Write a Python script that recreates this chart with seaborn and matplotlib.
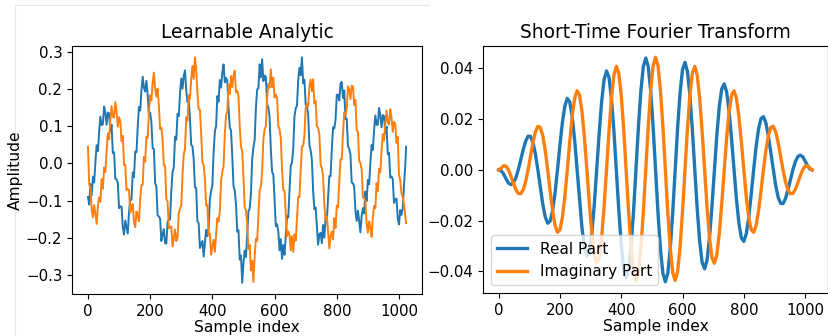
import matplotlib
matplotlib.use("Agg")
import matplotlib.pyplot as plt
from matplotlib.lines import Line2D
import seaborn as sns

# ---------------------------------------------------------------------------
# Data
# ---------------------------------------------------------------------------
# Learnable analytic filter (every 4th sample + last sample)
la_idx = list(range(0, 1024, 4)) + [1023]
la_real = [
    -0.090, -0.110, -0.055, -0.086, -0.035, -0.051, 0.004, 0.049, 0.033, 0.086, 0.126, 0.103, 0.105, 0.153, 0.136, 0.104,
    0.137, 0.134, 0.086, 0.104, 0.028, 0.030, -0.041, -0.042, -0.052, -0.120, -0.115, -0.116, -0.171, -0.191, -0.153, -0.170,
    -0.188, -0.131, -0.097, -0.097, -0.024, -0.037, 0.032, 0.030, 0.098, 0.152, 0.142, 0.196, 0.233, 0.203, 0.193, 0.222,
    0.185, 0.129, 0.137, 0.111, 0.041, 0.039, -0.052, -0.062, -0.139, -0.142, -0.148, -0.208, -0.190, -0.176, -0.214, -0.215,
    -0.157, -0.151, -0.150, -0.074, -0.023, -0.011, 0.072, 0.064, 0.133, 0.127, 0.187, 0.228, 0.201, 0.235, 0.250, 0.197,
    0.165, 0.175, 0.120, 0.050, 0.046, 0.011, -0.064, -0.066, -0.155, -0.160, -0.227, -0.216, -0.208, -0.250, -0.213, -0.178,
    -0.195, -0.174, -0.096, -0.074, -0.058, 0.029, 0.086, 0.100, 0.181, 0.166, 0.224, 0.204, 0.245, 0.266, 0.218, 0.230,
    0.222, 0.148, 0.096, 0.089, 0.020, -0.061, -0.072, -0.110, -0.183, -0.179, -0.258, -0.247, -0.320, -0.266, -0.234, -0.251,
    -0.188, -0.128, -0.121, -0.081, 0.011, 0.043, 0.063, 0.149, 0.199, 0.202, 0.266, 0.231, 0.280, 0.221, 0.236, 0.232,
    0.159, 0.150, 0.125, 0.038, -0.022, -0.030, -0.096, -0.168, -0.163, -0.182, -0.233, -0.203, -0.256, -0.219, -0.245, -0.192,
    -0.142, -0.145, -0.072, -0.006, 0.002, 0.040, 0.126, 0.148, 0.155, 0.224, 0.257, 0.237, 0.285, 0.215, 0.225, 0.158,
    0.153, 0.133, 0.050, 0.035, 0.010, -0.074, -0.123, -0.118, -0.167, -0.218, -0.190, -0.186, -0.214, -0.165, -0.199, -0.146,
    -0.156, -0.092, -0.034, -0.034, 0.037, 0.097, 0.094, 0.117, 0.184, 0.185, 0.169, 0.214, 0.219, 0.176, 0.196, 0.120,
    0.120, 0.046, 0.040, 0.024, -0.051, -0.053, -0.062, -0.126, -0.154, -0.127, -0.154, -0.185, -0.140, -0.120, -0.134, -0.075,
    -0.101, -0.044, -0.056, 0.002, 0.050, 0.036, 0.089, 0.129, 0.104, 0.104, 0.149, 0.130, 0.097, 0.130, 0.127, 0.080,
    0.099, 0.025, 0.029, -0.038, -0.035, -0.042, -0.106, -0.097, -0.094, -0.147, -0.164, -0.125, -0.138, -0.120, -0.060, -0.010,
    0.045,
]
la_imag = [
    0.045, -0.055, -0.065, -0.122, -0.145, -0.112, -0.135, -0.162, -0.114, -0.091, -0.103, -0.042, -0.068, -0.011, -0.023, 0.034,
    0.081, 0.065, 0.116, 0.154, 0.125, 0.123, 0.165, 0.140, 0.099, 0.124, 0.114, 0.060, 0.074, -0.004, -0.003, -0.071,
    -0.068, -0.072, -0.132, -0.118, -0.109, -0.157, -0.171, -0.129, -0.141, -0.155, -0.095, -0.058, -0.057, 0.018, 0.005, 0.072,
    0.069, 0.133, 0.183, 0.169, 0.217, 0.244, 0.200, 0.180, 0.201, 0.154, 0.093, 0.096, 0.066, -0.005, -0.006, -0.096,
    -0.102, -0.174, -0.170, -0.169, -0.223, -0.199, -0.177, -0.208, -0.199, -0.133, -0.121, -0.113, -0.031, 0.024, 0.039, 0.124,
    0.115, 0.183, 0.174, 0.227, 0.262, 0.227, 0.285, 0.255, 0.188, 0.145, 0.144, 0.080, 0.003, -0.004, -0.040, -0.113,
    -0.111, -0.193, -0.188, -0.245, -0.223, -0.205, -0.237, -0.192, -0.147, -0.156, -0.129, -0.047, -0.023, -0.007, 0.078, 0.131,
    0.139, 0.212, 0.187, 0.235, 0.205, 0.236, 0.249, 0.191, 0.195, 0.181, 0.100, 0.044, 0.034, -0.037, -0.118, -0.126,
    -0.161, -0.229, -0.219, -0.287, -0.261, -0.318, -0.248, -0.202, -0.208, -0.137, -0.072, -0.063, -0.023, 0.065, 0.091, 0.101,
    0.176, 0.214, 0.203, 0.253, 0.205, 0.230, 0.177, 0.185, 0.176, 0.101, 0.091, 0.068, -0.016, -0.071, -0.073, -0.132,
    -0.195, -0.182, -0.192, -0.233, -0.195, -0.237, -0.190, -0.207, -0.146, -0.090, -0.090, -0.018, 0.045, 0.047, 0.076, 0.150,
    0.160, 0.153, 0.207, 0.225, 0.194, 0.226, 0.161, 0.168, 0.100, 0.096, 0.078, -0.002, -0.013, -0.033, -0.110, -0.153,
    -0.142, -0.183, -0.228, -0.195, -0.183, -0.204, -0.147, -0.173, -0.113, -0.118, -0.050, 0.011, 0.011, 0.081, 0.137, 0.130,
    0.147, 0.207, 0.200, 0.173, 0.209, 0.206, 0.157, 0.171, 0.090, 0.085, 0.008, 0.001, -0.016, -0.091, -0.093, -0.100,
    -0.161, -0.186, -0.155, -0.174, -0.197, -0.143, -0.114, -0.120, -0.053, -0.074, -0.014, -0.024, 0.034, 0.079, 0.061, 0.109,
    0.142, 0.110, 0.104, 0.146, 0.123, 0.085, 0.112, 0.105, 0.055, 0.071, -0.030, -0.045, -0.080, -0.090, -0.110, -0.140,
    -0.160,
]

# STFT basis (every 8th sample + last sample)
stft_idx = list(range(0, 1024, 8)) + [1023]
stft_real = [
    0, -0.0003, -0.0016, -0.0035, -0.0052, -0.0058, -0.0052, -0.0032, 0, 0.0039, 0.0079, 0.0113, 0.0133, 0.0132, 0.0108, 0.0062,
    0, -0.0069, -0.0135, -0.0185, -0.0210, -0.0202, -0.0161, -0.0091, 0, 0.0098, 0.0187, 0.0252, 0.0282, 0.0268, 0.0210, 0.0117,
    0, -0.0122, -0.0230, -0.0307, -0.0339, -0.0320, -0.0250, -0.0138, 0, 0.0143, 0.0268, 0.0356, 0.0390, 0.0365, 0.0282, 0.0155,
    0, -0.0158, -0.0294, -0.0388, -0.0424, -0.0395, -0.0304, -0.0166, 0, 0.0167, 0.0310, 0.0407, 0.0441, 0.0408, 0.0313, 0.0170,
    0, -0.0170, -0.0313, -0.0408, -0.0441, -0.0407, -0.0310, -0.0167, 0, 0.0166, 0.0304, 0.0395, 0.0424, 0.0388, 0.0294, 0.0158,
    0, -0.0155, -0.0282, -0.0365, -0.0390, -0.0356, -0.0268, -0.0143, 0, 0.0138, 0.0250, 0.0320, 0.0339, 0.0307, 0.0230, 0.0122,
    0, -0.0117, -0.0210, -0.0268, -0.0282, -0.0252, -0.0187, -0.0098, 0, 0.0091, 0.0161, 0.0202, 0.0210, 0.0185, 0.0135, 0.0069,
    0, -0.0062, -0.0108, -0.0132, -0.0133, -0.0113, -0.0079, -0.0039, 0, 0.0032, 0.0052, 0.0058, 0.0052, 0.0035, 0.0016, 0.0003,
    0,
]
stft_imag = [
    0, 0.0007, 0.0016, 0.0015, 0, -0.0024, -0.0052, -0.0077, -0.0093, -0.0094, -0.0079, -0.0047, 0, 0.0055, 0.0108, 0.0150,
    0.0172, 0.0167, 0.0135, 0.0077, 0, -0.0084, -0.0161, -0.0219, -0.0246, -0.0236, -0.0187, -0.0105, 0, 0.0111, 0.0210, 0.0282,
    0.0312, 0.0295, 0.0230, 0.0127, 0, -0.0133, -0.0250, -0.0334, -0.0368, -0.0346, -0.0268, -0.0147, 0, 0.0151, 0.0282, 0.0373,
    0.0408, 0.0381, 0.0294, 0.0161, 0, -0.0164, -0.0304, -0.0400, -0.0436, -0.0404, -0.0310, -0.0169, 0, 0.0169, 0.0313, 0.0410,
    0.0444, 0.0410, 0.0313, 0.0169, 0, -0.0169, -0.0310, -0.0404, -0.0436, -0.0400, -0.0304, -0.0164, 0, 0.0161, 0.0294, 0.0381,
    0.0408, 0.0373, 0.0282, 0.0151, 0, -0.0147, -0.0268, -0.0346, -0.0368, -0.0334, -0.0250, -0.0133, 0, 0.0127, 0.0230, 0.0295,
    0.0312, 0.0282, 0.0210, 0.0111, 0, -0.0105, -0.0187, -0.0236, -0.0246, -0.0219, -0.0161, -0.0084, 0, 0.0077, 0.0135, 0.0167,
    0.0172, 0.0150, 0.0108, 0.0055, 0, -0.0047, -0.0079, -0.0094, -0.0093, -0.0077, -0.0052, -0.0024, 0, 0.0015, 0.0016, 0.0007,
    0,
]

blue = '#1f77b4'
orange = '#ff7f0e'

# ---------------------------------------------------------------------------
# Figure
# ---------------------------------------------------------------------------
fig = plt.figure(figsize=(8.29, 3.36), dpi=100)
ax1 = fig.add_axes([0.0869, 0.125, 0.4222, 0.738])
ax2 = fig.add_axes([0.5826, 0.128, 0.416, 0.735])

# light frame of the original canvas (kept behind everything)
fig.add_artist(Line2D([0.0181, 0.516], [0.9866, 0.9866], color='#e6e6e6', lw=0.8, zorder=-5))
fig.add_artist(Line2D([0.0181, 0.0181], [0.0, 0.9866], color='#e6e6e6', lw=0.8, zorder=-5))

# left: learnable analytic filter
sns.lineplot(x=la_idx, y=la_real, ax=ax1, color=blue, linewidth=1.4)
sns.lineplot(x=la_idx, y=la_imag, ax=ax1, color=orange, linewidth=1.4)
ax1.set_title('Learnable Analytic', fontsize=13.4)
ax1.set_xlabel('Sample index', fontsize=11.2, labelpad=1)
ax1.set_ylabel('Amplitude', fontsize=11.2, labelpad=2)
ax1.tick_params(labelsize=10.8)

# right: STFT basis
sns.lineplot(x=stft_idx, y=stft_real, ax=ax2, color=blue, linewidth=2.4, label='Real Part')
sns.lineplot(x=stft_idx, y=stft_imag, ax=ax2, color=orange, linewidth=2.4, label='Imaginary Part')
ax2.set_title('Short-Time Fourier Transform', fontsize=13.4)
ax2.set_xlabel('Sample index', fontsize=11.2, labelpad=1)
ax2.set_ylabel('')
ax2.tick_params(labelsize=10.8)
ax2.legend(loc='lower left', fontsize=11)

fig.savefig('out.png', dpi=100)
